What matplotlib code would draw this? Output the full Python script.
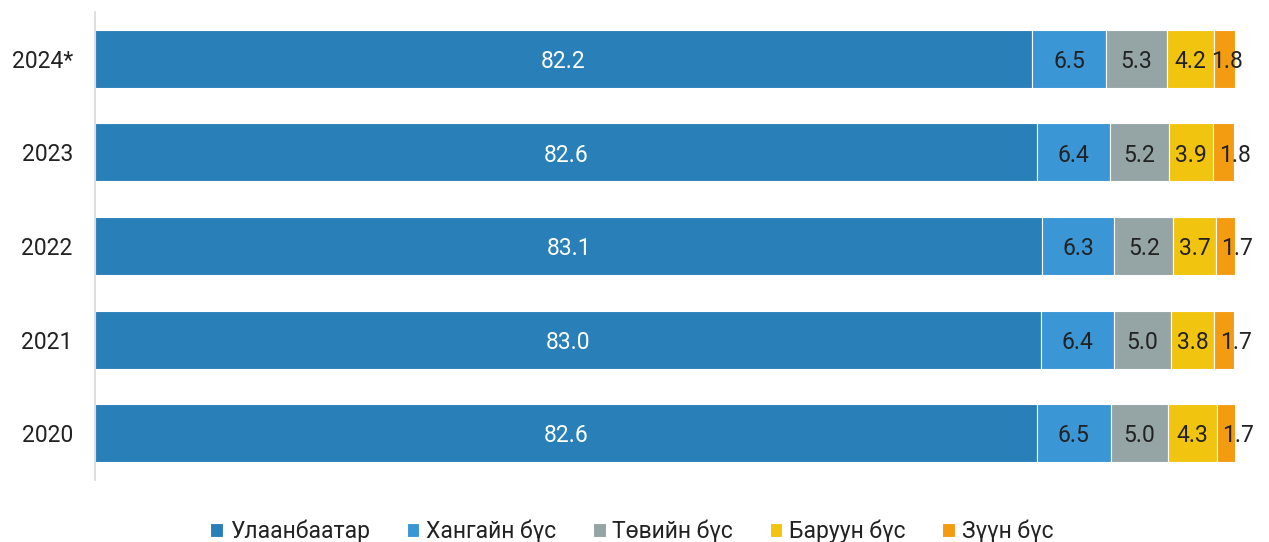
import matplotlib.pyplot as plt
import numpy as np

plt.rcParams['font.family'] = ['Roboto', 'DejaVu Sans']

years = ['2020', '2021', '2022', '2023', '2024*']
regions = ['Улаанбаатар', 'Хангайн бүс', 'Төвийн бүс', 'Баруун бүс', 'Зүүн бүс']
ulaanbaatar = [82.6, 83.0, 83.1, 82.6, 82.2]
khangai = [6.5, 6.4, 6.3, 6.4, 6.5]
tuv = [5.0, 5.0, 5.2, 5.2, 5.3]
baruun = [4.3, 3.8, 3.7, 3.9, 4.2]
zuun = [1.7, 1.7, 1.7, 1.8, 1.8]
colors = ['#2980B9', '#3A96D5', '#95A5A6', '#F1C40F', '#F39C12']
label_colors = ['white', '#222222', '#222222', '#222222', '#222222']

series = [ulaanbaatar, khangai, tuv, baruun, zuun]
fs = 16.5
# the small end labels sit a bit to the right in the original (except top row)
zuun_shift = [1.0, 1.0, 1.0, 1.0, 0.2]

fig = plt.figure(figsize=(12.69, 5.42), dpi=100)
ax = fig.add_axes([0.0749, 0.1144, 0.8983, 0.8636])

y = np.arange(len(years))
left = np.zeros(len(years))
for k, (vals, name, c, lc) in enumerate(zip(series, regions, colors, label_colors)):
    vals = np.array(vals)
    ax.barh(y, vals, left=left, height=0.62, color=c, edgecolor='white',
            linewidth=0.8, label=name)
    for i, (yi, l, v) in enumerate(zip(y, left, vals)):
        dx = zuun_shift[i] if k == 4 else 0
        ax.text(l + v / 2 + dx, yi - 0.03, f'{v:.1f}', ha='center', va='center',
                color=lc, fontsize=fs)
    left = left + vals

ax.set_xlim(0, 100)
ax.set_ylim(-0.5, 4.5)
ax.set_yticks(y)
ax.set_yticklabels(years, fontsize=fs, color='#222222')
ax.tick_params(axis='y', length=0, pad=16)
ax.set_xticks([])
for s in ['top', 'right', 'bottom']:
    ax.spines[s].set_visible(False)
ax.spines['left'].set_color('#d9d9d9')
ax.spines['left'].set_linewidth(1.2)

leg = ax.legend(loc='upper center', bbox_to_anchor=(0.471, -0.04), ncol=5, frameon=False,
                handlelength=0.55, handleheight=0.55, handletextpad=0.3,
                columnspacing=1.6, prop={'size': fs})
for t in leg.get_texts():
    t.set_color('#222222')

fig.savefig('out.png', dpi=100)
